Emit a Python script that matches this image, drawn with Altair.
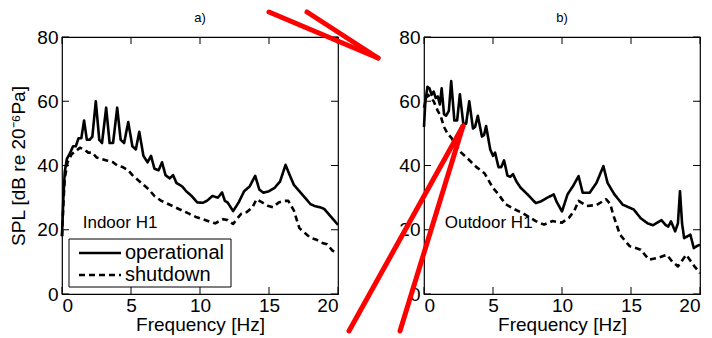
import altair as alt
import pandas as pd

FONT = "Liberation Sans"
W, H = 276, 257

conditions = ["operational", "shutdown"]
x_ticks = [0, 5, 10, 15, 20]
y_ticks = [0, 20, 40, 60, 80]
panel_titles = ["a)", "b)"]
panel_labels = ["Indoor H1", "Outdoor H1"]

# Panel a (Indoor H1)
a_op_f = [0.0, 0.1, 0.2, 0.35, 0.6, 0.8, 1.0, 1.2, 1.4, 1.6,
          1.8, 2.0, 2.2, 2.45, 2.7, 2.9, 3.2, 3.45, 3.7, 4.0,
          4.25, 4.5, 4.8, 5.1, 5.35, 5.6, 5.9, 6.2, 6.45, 6.7,
          7.0, 7.25, 7.5, 7.8, 8.05, 8.3, 8.7, 9.0, 9.4, 9.8,
          10.2, 10.5, 10.9, 11.3, 11.6, 11.8, 12.0, 12.4, 12.8, 13.2,
          13.6, 14.0, 14.3, 14.6, 15.0, 15.4, 15.8, 16.2, 16.5, 16.8,
          17.2, 17.6, 18.0, 18.3, 18.7, 19.0, 19.4, 19.7, 20.0]
a_op_v = [18, 30, 38, 42, 44, 46, 46, 48.5, 48.5, 54,
          48, 48, 49, 60, 48, 47, 58, 47, 47, 58,
          48, 47, 53.5, 46, 45, 50.5, 43, 41, 43, 39,
          38.5, 41, 37, 36, 37, 34.5, 33.5, 32, 30.5, 28.5,
          28.4, 29, 30.5, 30, 31.6, 29, 28.5, 25.8, 28.5, 32,
          33.5, 36.8, 32.5, 31.5, 32, 33, 35, 40.2, 37, 34,
          32, 30, 28, 27.4, 27, 26.5, 24.5, 23, 21.5]
a_sd_f = [0, 0.1, 0.2, 0.4, 0.7, 1.0, 1.3, 1.6, 1.9, 2.2,
          2.5, 2.9, 3.3, 3.7, 4.0, 4.4, 4.8, 5.1, 5.5, 5.9,
          6.3, 6.7, 7.2, 7.7, 8.2, 8.7, 9.2, 9.7, 10.2, 10.7,
          11.1, 11.4, 11.7, 12.0, 12.4, 12.7, 13.0, 13.4, 13.8, 14.1,
          14.5, 14.9, 15.3, 15.7, 16.1, 16.4, 16.8, 17.2, 17.6, 18.0,
          18.4, 18.8, 19.2, 19.6, 20.0]
a_sd_v = [18, 28, 36, 41, 43.5, 44.5, 45.5, 45, 44, 44,
          42.5, 42, 41.5, 41, 40, 39.5, 38.5, 37, 35.5, 34,
          32.5, 30.5, 29, 28, 27, 26, 25, 24, 23.3, 22.5,
          22, 22.7, 23.3, 23, 21.8, 23.5, 25, 25.5, 27, 29.5,
          28.5, 27.5, 27, 28.5, 29, 29, 26, 20.5, 19, 17.5,
          17, 16, 15.5, 13.5, 13]

# Panel b (Outdoor H1)
b_op_f = [0, 0.1, 0.25, 0.4, 0.55, 0.7, 0.85, 1.0, 1.15, 1.28,
          1.45, 1.6, 1.8, 1.97, 2.2, 2.4, 2.6, 2.85, 3.05, 3.28,
          3.55, 3.7, 3.9, 4.2, 4.35, 4.5, 4.8, 5.0, 5.15, 5.4,
          5.6, 5.8, 6.05, 6.25, 6.45, 6.7, 7.0, 7.5, 8.1, 8.45,
          8.9, 9.4, 9.6, 10.0, 10.4, 10.8, 11.2, 11.5, 12.0, 12.5,
          13.0, 13.3, 13.8, 14.4, 15.2, 15.7, 16.2, 16.6, 17.2, 17.5,
          17.7, 17.9, 18.2, 18.4, 18.55, 18.7, 18.85, 19.1, 19.3, 19.55,
          19.8, 20.0]
b_op_v = [52, 60, 64.5, 64, 62, 63, 61, 61.5, 59, 64,
          56, 55.5, 57, 66.3, 54, 54, 62.2, 53, 53, 60,
          51.5, 52, 55.5, 49, 49.5, 52.3, 45, 43, 44, 39.5,
          39.5, 41.6, 36.8, 36.5, 37.3, 35, 33.1, 31, 28.3, 28.8,
          29.9, 31, 28.8, 25.7, 31, 33.6, 36.7, 31.5, 31.5, 34.6,
          39.8, 34.6, 31, 27.8, 26.3, 23.6, 22, 21.4, 23, 21.5,
          21, 22.6, 19.5, 22, 32, 22, 17.4, 18, 18.5, 14.3,
          15, 15.3]
b_sd_f = [0, 0.15, 0.3, 0.5, 0.7, 1.0, 1.2, 1.45, 1.7, 2.0,
          2.2, 2.7, 3.2, 3.8, 4.4, 5.0, 5.4, 5.9, 6.6, 7.3,
          8.1, 8.7, 9.3, 10.0, 10.5, 10.9, 11.2, 11.8, 12.5, 13.2,
          13.5, 13.7, 14.2, 14.9, 15.7, 16.3, 16.9, 17.6, 18.0, 18.4,
          19.0, 19.6, 20.0]
b_sd_v = [58, 61, 62, 61, 60, 57, 55.5, 52, 50, 48.5,
          47, 44, 42, 39.5, 37.5, 33, 31, 28, 26.3, 24.8,
          22.7, 21.6, 22.7, 22.2, 23.7, 26, 29, 27.4, 27.7, 29.5,
          28, 24.8, 18.5, 14.9, 13.8, 10.7, 11.2, 12.2, 10, 8.6,
          12.2, 8.6, 6.5]

DASHES = [[1, 0], [6, 4]]


def long_df(op_f, op_v, sd_f, sd_v):
    d1 = pd.DataFrame({"f": op_f, "spl": op_v, "cond": conditions[0]})
    d2 = pd.DataFrame({"f": sd_f, "spl": sd_v, "cond": conditions[1]})
    return pd.concat([d1, d2], ignore_index=True)


xs = alt.Scale(domain=[0, 20], nice=False, zero=False)
ys = alt.Scale(domain=[0, 80], nice=False)
one = alt.Data(values=[{}])


def red(x1, y1, x2, y2):
    return alt.Chart(one).mark_rule(
        color="#ff0000", strokeWidth=5, strokeCap="round"
    ).encode(x=alt.value(x1), y=alt.value(y1), x2=alt.value(x2), y2=alt.value(y2))


def legend_layers():
    box = alt.Chart(one).mark_rect(fill="white", stroke="black", strokeWidth=1).encode(
        x=alt.value(7), x2=alt.value(169), y=alt.value(202), y2=alt.value(250))
    out = [box]
    for i, name in enumerate(conditions):
        yy = 216 + 22 * i
        out.append(alt.Chart(one).mark_rule(color="black", strokeWidth=2.6, strokeDash=DASHES[i]).encode(
            x=alt.value(17), x2=alt.value(59), y=alt.value(yy)))
        out.append(alt.Chart(pd.DataFrame({"name": [name]})).mark_text(
            align="left", baseline="middle", font=FONT, fontSize=20, color="black").encode(
            x=alt.value(63), y=alt.value(yy), text="name:N"))
    return out


def panel(df, title, label, show_legend, ytitle, reds):
    if ytitle:
        yaxis = alt.Axis(values=y_ticks, title=ytitle, titlePadding=8)
    else:
        yaxis = alt.Axis(values=y_ticks, title=None)
    lines = alt.Chart(df).mark_line(color="black", strokeWidth=2.6, strokeJoin="round").encode(
        x=alt.X("f:Q", scale=xs, axis=alt.Axis(values=x_ticks, title="Frequency [Hz]", labelPadding=2, titlePadding=0)),
        y=alt.Y("spl:Q", scale=ys, axis=yaxis),
        strokeDash=alt.StrokeDash("cond:N", scale=alt.Scale(domain=conditions, range=DASHES), legend=None),
    )
    xt = pd.DataFrame({"f": x_ticks})
    yt = pd.DataFrame({"spl": y_ticks})
    tb = alt.Chart(xt).mark_rule(color="black").encode(x=alt.X("f:Q", scale=xs), y=alt.value(H), y2=alt.value(H - 7))
    tt = alt.Chart(xt).mark_rule(color="black").encode(x=alt.X("f:Q", scale=xs), y=alt.value(0), y2=alt.value(7))
    tl = alt.Chart(yt).mark_rule(color="black").encode(y=alt.Y("spl:Q", scale=ys), x=alt.value(0), x2=alt.value(7))
    tr = alt.Chart(yt).mark_rule(color="black").encode(y=alt.Y("spl:Q", scale=ys), x=alt.value(W - 7), x2=alt.value(W))
    txt = alt.Chart(pd.DataFrame({"label": [label]})).mark_text(
        align="left", baseline="middle", font=FONT, fontSize=17, color="black"
    ).encode(x=alt.datum(1.5), y=alt.datum(22), text="label:N")
    ttl = alt.Chart(pd.DataFrame({"title": [title]})).mark_text(
        align="center", baseline="middle", font=FONT, fontSize=13, color="black"
    ).encode(x=alt.value(W / 2), y=alt.value(-19), text="title:N")
    layers = [lines, tb, tt, tl, tr, txt, ttl]
    if show_legend:
        layers += legend_layers()
    layers += [red(*r) for r in reds]
    return alt.layer(*layers).properties(width=W, height=H)


pa = panel(long_df(a_op_f, a_op_v, a_sd_f, a_sd_v), panel_titles[0], panel_labels[0], True,
           "SPL [dB re 20⁻⁶Pa]", [(207, -25, 316, 21), (245, -25, 316, 21)])
pb = panel(long_df(b_op_f, b_op_v, b_sd_f, b_sd_v), panel_titles[1], panel_labels[1], False,
           None, [(-75, 294, 39, 89), (-24, 294, 39, 89)])

chart = alt.hconcat(pa, pb, spacing=86, bounds="flush").resolve_scale(
    strokeDash="independent"
).properties(
    padding={"left": 1, "top": 0, "right": 2, "bottom": 0}
).configure_view(stroke="black", strokeWidth=1.2).configure_axis(
    grid=False, domain=False, ticks=False, labelFont=FONT, labelFontSize=19,
    labelColor="black", titleFont=FONT, titleFontSize=19, titleFontWeight="normal",
    titleColor="black", labelPadding=4,
)

chart.save("out.html", embed_options={"renderer": "svg", "actions": False})
